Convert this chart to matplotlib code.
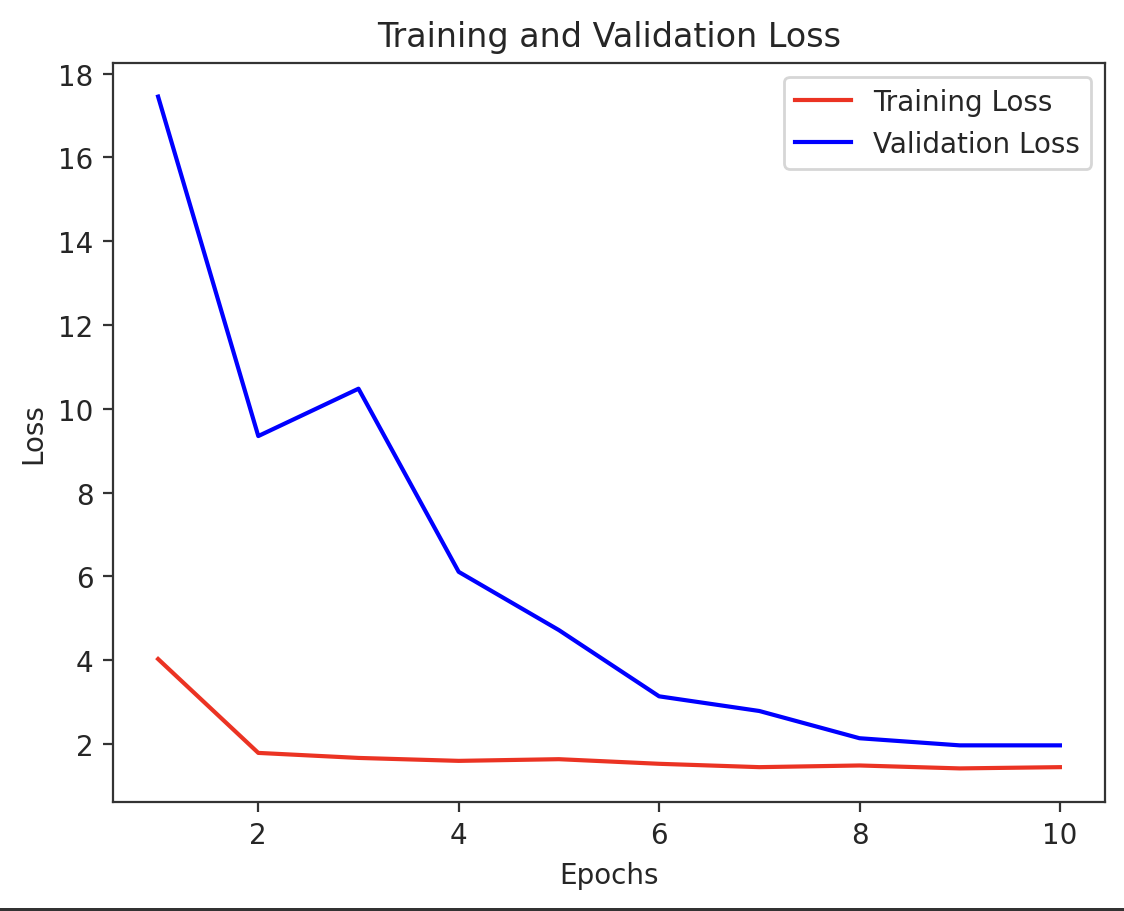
import matplotlib
matplotlib.use("Agg")
import matplotlib.pyplot as plt
from matplotlib.patches import Rectangle

epochs = [1, 2, 3, 4, 5, 6, 7, 8, 9, 10]
training_loss = [4.03, 1.79, 1.67, 1.60, 1.64, 1.53, 1.45, 1.49, 1.42, 1.45]
validation_loss = [17.45, 9.35, 10.48, 6.11, 4.72, 3.14, 2.79, 2.14, 1.97, 1.97]

dark = "#262626"
plt.rcParams.update({
    "text.color": dark,
    "axes.labelcolor": dark,
    "axes.edgecolor": "#333333",
    "xtick.color": "#333333",
    "ytick.color": "#333333",
    "xtick.labelcolor": dark,
    "ytick.labelcolor": dark,
})

W, H = 1124, 912
fig = plt.figure(figsize=(W / 200, H / 200), dpi=200)
ax = fig.add_axes([113 / W, 1 - 803 / H, (1105 - 113) / W, (803 - 64) / H])

ax.plot(epochs, training_loss, color="#eb3323", label="Training Loss")
ax.plot(epochs, validation_loss, color="#0000ff", label="Validation Loss")
ax.set_title("Training and Validation Loss")
ax.set_xlabel("Epochs")
ax.set_ylabel("Loss")
ax.legend(loc="upper right")

fig.patches.append(Rectangle((0, 0), 1, 3.5 / H, transform=fig.transFigure,
                             facecolor="#333333", edgecolor="none", zorder=10))

fig.savefig("out.png", dpi=200)
